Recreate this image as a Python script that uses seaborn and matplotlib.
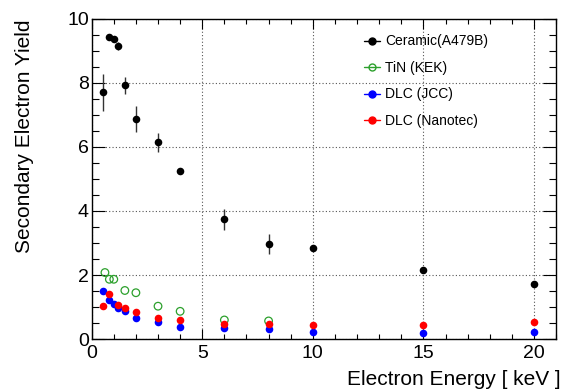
import matplotlib
matplotlib.use("Agg")
import matplotlib.pyplot as plt
from matplotlib.lines import Line2D
from matplotlib.ticker import MultipleLocator
import seaborn as sns

# ======= DATA ========= #
energy_ceramic = [0.5, 0.8, 1.0, 1.2, 1.5, 2, 3, 4, 6, 8, 10, 15, 20]
sey_ceramic = [7.70, 9.42, 9.36, 9.14, 7.92, 6.87, 6.14, 5.24, 3.74, 2.96, 2.84, 2.15, 1.72]
err_ceramic = [0.58, 0.05, 0.05, 0.12, 0.27, 0.41, 0.29, 0.06, 0.33, 0.31, 0.04, 0.04, 0.04]

energy_tin = [0.6, 0.8, 1.0, 1.5, 2, 3, 4, 6, 8]
sey_tin = [2.08, 1.87, 1.87, 1.52, 1.45, 1.03, 0.87, 0.60, 0.57]

energy_jcc = [0.5, 0.8, 1.0, 1.2, 1.5, 2, 3, 4, 6, 8, 10, 15, 20]
sey_jcc = [1.50, 1.22, 1.09, 0.98, 0.89, 0.67, 0.54, 0.39, 0.36, 0.32, 0.23, 0.20, 0.23]

energy_nano = [0.5, 0.8, 1.2, 1.5, 2, 3, 4, 6, 8, 10, 15, 20]
sey_nano = [1.05, 1.40, 1.06, 0.98, 0.85, 0.67, 0.60, 0.49, 0.47, 0.43, 0.43, 0.54]

labels = ["Ceramic(A479B)", "TiN (KEK)", "DLC (JCC)", "DLC (Nanotec)"]
colors = ["black", "#2ca02c", "#0000ff", "#ff0000"]

# ======= STYLE ========= #
sns.set_theme(style="ticks")
plt.rcParams["font.family"] = ["Liberation Sans", "DejaVu Sans"]
plt.rcParams["text.color"] = "black"
plt.rcParams["axes.labelcolor"] = "black"
plt.rcParams["xtick.color"] = "black"
plt.rcParams["ytick.color"] = "black"

fig = plt.figure(figsize=(5.68, 3.89), dpi=100)
ax = fig.add_axes([0.1614, 0.128, 0.8176, 0.824])

# ======= PLOT ========= #
ax.errorbar(energy_ceramic, sey_ceramic, yerr=err_ceramic,
            fmt="none", ecolor="#333333", elinewidth=1.0, capsize=0, zorder=2)

sns.scatterplot(x=energy_ceramic, y=sey_ceramic, color=colors[0],
                s=30, linewidth=0, ax=ax, zorder=3)
sns.scatterplot(x=energy_tin, y=sey_tin, s=30, facecolor="none",
                edgecolor=colors[1], linewidth=0.9, ax=ax, zorder=3)
sns.scatterplot(x=energy_jcc, y=sey_jcc, color=colors[2],
                s=30, linewidth=0, ax=ax, zorder=3)
sns.scatterplot(x=energy_nano, y=sey_nano, color=colors[3],
                s=30, linewidth=0, ax=ax, zorder=4)

# ======= AXES ========= #
ax.set_xlim(0, 21)
ax.set_ylim(0, 10)
ax.xaxis.set_major_locator(MultipleLocator(5))
ax.xaxis.set_minor_locator(MultipleLocator(1))
ax.yaxis.set_major_locator(MultipleLocator(2))
ax.yaxis.set_minor_locator(MultipleLocator(0.5))

ax.tick_params(axis="both", which="both", direction="in",
               top=True, right=True, colors="black", labelsize=14)
ax.tick_params(axis="x", which="major", length=7, width=0.8, pad=4)
ax.tick_params(axis="x", which="minor", length=3.6, width=0.8)
ax.tick_params(axis="y", which="major", length=9.5, width=0.8, pad=2)
ax.tick_params(axis="y", which="minor", length=5, width=0.8)

for sp in ax.spines.values():
    sp.set_linewidth(1.0)
    sp.set_color("black")

ax.grid(True, which="major", color="#555555", linestyle=(0, (1, 2)), linewidth=0.8)

ax.set_xlabel("Electron Energy [ keV ]", fontsize=15, ha="right", color="black")
ax.xaxis.set_label_coords(1.009, -0.095)
ax.set_ylabel("Secondary Electron Yield", fontsize=15, ha="right", color="black")
ax.yaxis.set_label_coords(-0.124, 0.996)

# ======= LEGEND ========= #
handles = [
    Line2D([], [], color=colors[0], marker="o", markersize=5, linewidth=1),
    Line2D([], [], color=colors[1], marker="o", markersize=5, linewidth=1,
           markerfacecolor="none"),
    Line2D([], [], color=colors[2], marker="o", markersize=5, linewidth=1),
    Line2D([], [], color=colors[3], marker="o", markersize=5, linewidth=1),
]
leg = ax.legend(handles, labels, frameon=False, fontsize=10, loc="upper left",
                bbox_to_anchor=(0.56, 0.99), handlelength=1.15, handletextpad=0.35,
                labelspacing=0.9)
for t in leg.get_texts():
    t.set_color("black")

sns.despine(top=False, right=False)
fig.savefig("out.png", dpi=100)
